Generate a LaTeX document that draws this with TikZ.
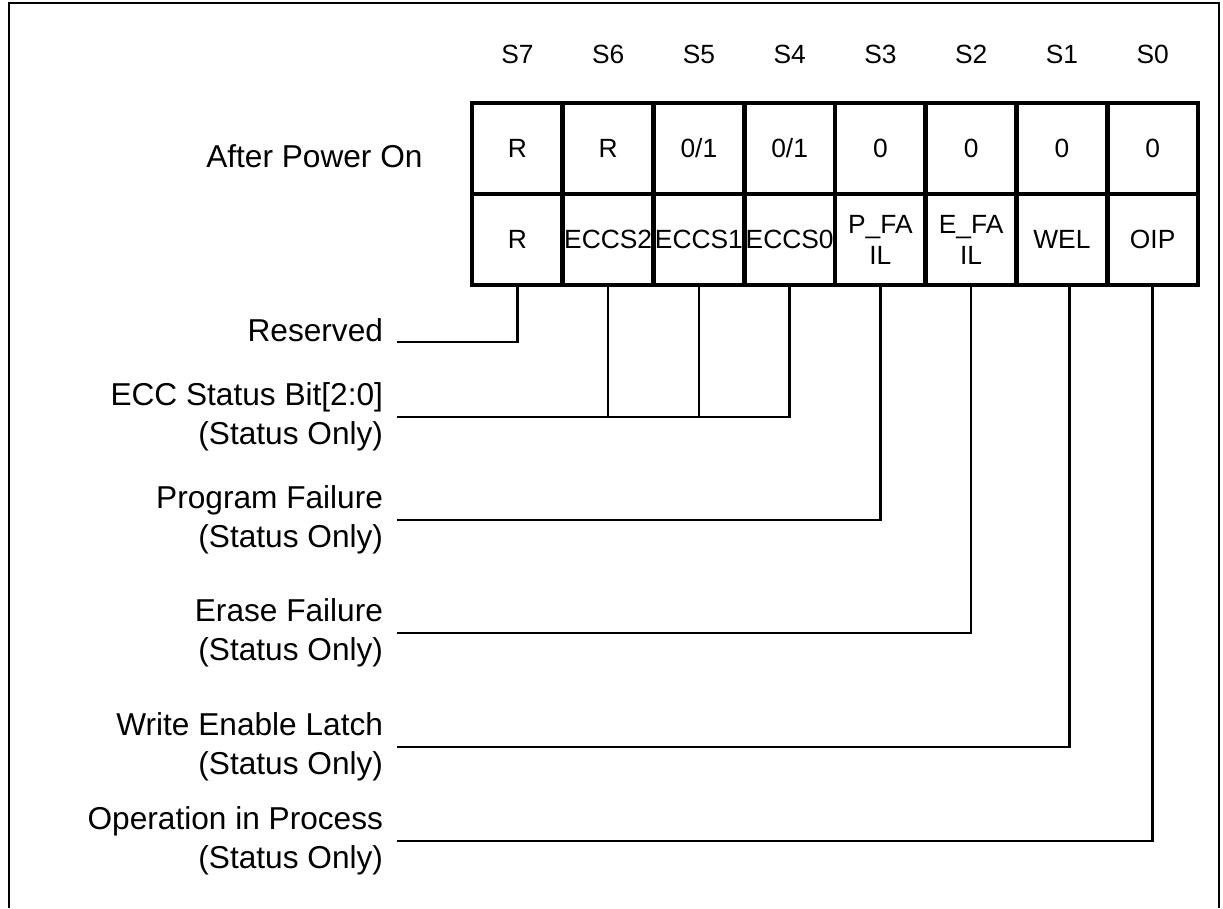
\documentclass[tikz,border=0pt]{standalone}
\usepackage{fontspec}
\setmainfont{Liberation Sans}
\usetikzlibrary{positioning}

\tikzset{
  cell/.style={draw, line width=2.8pt, minimum width=1.815cm, minimum height=1.82cm,
               inner sep=0pt, align=center, font=\fontsize{15}{17.6}\selectfont},
  hdr/.style={anchor=base, font=\fontsize{15}{18}\selectfont},
  lbl/.style={align=right, inner sep=0pt, outer xsep=0.28cm, font=\fontsize{18}{22.5}\selectfont},
  wire/.style={line width=1.4pt},
}

\begin{document}
\begin{tikzpicture}

     \useasboundingbox (0,0) rectangle (24.46,18.16);

     % frame
     \draw[line width=1.1pt] (0.18,0) -- (0.18,18.10) -- (24.38,18.10) -- (24.38,0);

     % register cells
     \foreach \i/\v/\n in {7/R/R, 6/R/ECCS2, 5/{0/1}/ECCS1, 4/{0/1}/ECCS0,
                           3/0/{P\_FA\\IL}, 2/0/{E\_FA\\IL}, 1/0/WEL, 0/0/OIP} {
       \pgfmathsetmacro{\x}{10.3475+(7-\i)*1.815}
       \node[hdr] (h\i) at (\x,16.88) {S\i};
       \node[cell] (r\i) at (\x,15.19) {\v};
       \node[cell] (b\i) at (\x,13.37) {\n};
     }

     \node[lbl, left=0.66cm of r7, yshift=-0.15cm] (pon) {After Power On};

     % bit descriptions
     \node[lbl, anchor=base east] (rsv) at (7.94,11.32) {Reserved};
     \node[lbl, anchor=east] (ecc) at (7.94,9.82) {ECC Status Bit[2:0]\\(Status Only)};
     \node[lbl, anchor=east] (pfail) at (7.94,7.76) {Program Failure\\(Status Only)};
     \node[lbl, anchor=east] (efail) at (7.94,5.50) {Erase Failure\\(Status Only)};
     \node[lbl, anchor=east] (wel) at (7.94,3.22) {Write Enable Latch\\(Status Only)};
     \node[lbl, anchor=east] (oip) at (7.94,1.34) {Operation in Process\\(Status Only)};

     % connectors
     \draw[wire] (rsv.base east) -| (b7.south);
     \draw[wire] (ecc.east) -| (b4.south);
     \draw[wire] (b6.south) -- (b6.south |- ecc.east);
     \draw[wire] (b5.south) -- (b5.south |- ecc.east);
     \draw[wire] (pfail.east) -| (b3.south);
     \draw[wire] (efail.east) -| (b2.south);
     \draw[wire] (wel.east) -| ([xshift=0.15cm]b1.south);
     \draw[wire] (oip.east) -| (b0.south);

\end{tikzpicture}
\end{document}
